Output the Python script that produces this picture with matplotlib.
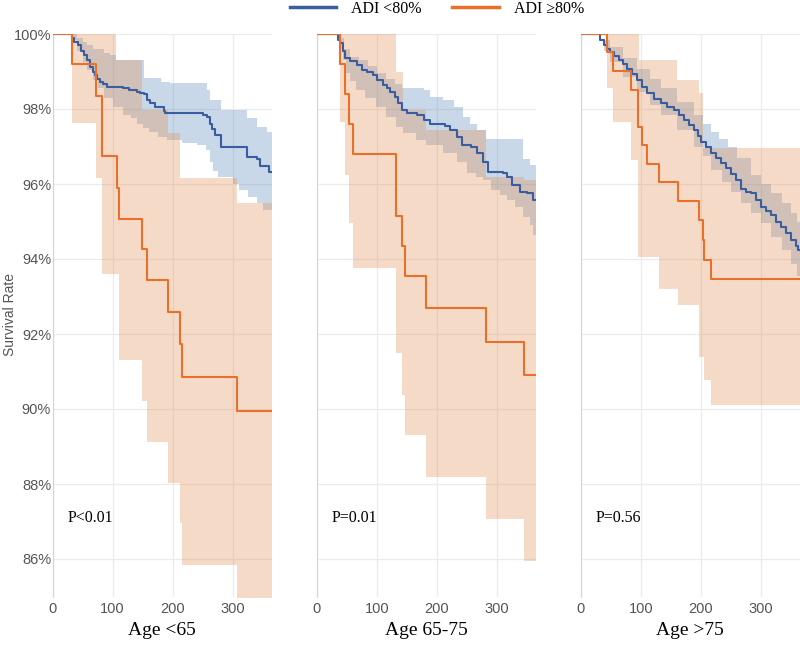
import numpy as np
import matplotlib
matplotlib.use("Agg")
import matplotlib.pyplot as plt

C_BLUE = "#3a5da0"
C_ORANGE = "#e8702a"
F_BLUE = "#4f7fb6"
F_ORANGE = "#e18a48"
SERIF = "Liberation Serif"
SANS = "Liberation Sans"

panel_titles = ["Age <65", "Age 65-75", "Age >75"]
p_values = ["P<0.01", "P=0.01", "P=0.56"]

# ---- Age <65 ----
lo_blue_t = [0, 28, 32, 36, 42, 48, 52, 57, 63, 67, 71, 74, 79, 84, 91, 118, 127, 141, 146, 152, 157,
             163, 171, 185, 188, 243, 250, 257, 262, 266, 271, 280, 318, 324, 341, 346, 360]
lo_blue_v = [100, 100, 99.9, 99.8, 99.7, 99.55, 99.44, 99.3, 99.13, 99.0, 98.9, 98.8, 98.73, 98.66,
             98.6, 98.55, 98.5, 98.46, 98.42, 98.4, 98.24, 98.15, 98.04, 97.96, 97.9, 97.9, 97.83,
             97.78, 97.6, 97.47, 97.3, 96.98, 96.98, 96.71, 96.67, 96.49, 96.33]
lo_blue_up_t = [0, 32, 40, 50, 57, 68, 85, 96, 105, 149, 152, 180, 196, 257, 263, 280, 318, 324,
                341, 357]
lo_blue_up_v = [100, 100, 99.9, 99.8, 99.7, 99.6, 99.5, 99.44, 99.31, 99.31, 98.83, 98.73, 98.69,
                98.51, 98.24, 97.97, 97.97, 97.75, 97.53, 97.4]
lo_blue_lo_t = [0, 28, 32, 40, 50, 57, 68, 75, 85, 100, 118, 130, 140, 150, 160, 175, 191, 215,
                240, 255, 262, 268, 275, 300, 310, 325, 340, 350]
lo_blue_lo_v = [100, 100, 99.85, 99.55, 99.25, 99.04, 98.77, 98.55, 98.3, 98.05, 97.85, 97.75,
                97.6, 97.5, 97.4, 97.25, 97.17, 97.1, 97.05, 96.9, 96.6, 96.35, 96.2, 96.0, 95.85,
                95.65, 95.5, 95.3]
lo_or_t = [0, 32, 72, 83, 107, 110, 149, 157, 193, 213, 215, 308]
lo_or_v = [100, 99.2, 98.36, 96.75, 95.9, 95.08, 94.28, 93.44, 92.58, 91.73, 90.85, 89.95]
lo_or_up_t = [0, 105, 149, 193, 213, 307]
lo_or_up_v = [100, 99.31, 97.97, 97.36, 96.15, 95.5]
lo_or_lo_t = [0, 32, 72, 83, 110, 149, 157, 193, 213, 215, 308]
lo_or_lo_v = [100, 97.62, 96.15, 93.6, 91.3, 90.22, 89.13, 88.02, 86.96, 85.84, 84.0]

# ---- Age 65-75 ----
mid_blue_t = [0, 33, 36, 39, 43, 47, 56, 67, 75, 83, 94, 100, 111, 117, 122, 130, 136, 142, 150,
              167, 178, 189, 214, 222, 233, 242, 258, 267, 278, 286, 311, 317, 325, 339, 350, 361]
mid_blue_v = [100, 100, 99.85, 99.75, 99.55, 99.35, 99.28, 99.17, 99.05, 99.0, 98.9, 98.77, 98.64,
              98.55, 98.46, 98.33, 98.15, 97.97, 97.9, 97.84, 97.7, 97.6, 97.55, 97.44, 97.26,
              97.04, 96.98, 96.82, 96.6, 96.33, 96.3, 96.2, 95.97, 95.8, 95.75, 95.57]
mid_blue_up_t = [0, 30, 35, 45, 55, 70, 85, 100, 115, 130, 142, 178, 189, 211, 228, 244, 255, 268,
                 283, 344, 355]
mid_blue_up_v = [100, 100, 99.9, 99.6, 99.4, 99.3, 99.15, 98.95, 98.8, 98.66, 98.56, 98.5, 98.33,
                 98.24, 98.06, 97.8, 97.6, 97.45, 97.19, 96.66, 96.5]
mid_blue_lo_t = [0, 33, 38, 43, 48, 56, 65, 81, 98, 115, 132, 144, 165, 182, 210, 233, 250, 265,
                 278, 290, 305, 317, 330, 344, 355, 361]
mid_blue_lo_v = [100, 100, 99.6, 99.3, 98.95, 98.75, 98.51, 98.29, 98.06, 97.8, 97.53, 97.36,
                 97.17, 97.04, 96.82, 96.6, 96.29, 96.2, 96.1, 95.85, 95.7, 95.57, 95.4, 95.13,
                 94.9, 94.64]
mid_or_t = [0, 39, 47, 53, 61, 132, 142, 147, 182, 282, 346]
mid_or_v = [100, 99.19, 98.39, 97.6, 96.8, 95.16, 94.36, 93.55, 92.68, 91.8, 90.91]
mid_or_up_t = [0, 132, 144, 182, 282, 346]
mid_or_up_v = [100, 98.99, 97.97, 97.44, 96.2, 96.1]
mid_or_lo_t = [0, 39, 47, 53, 61, 132, 142, 147, 182, 282, 346]
mid_or_lo_v = [100, 97.66, 96.24, 94.96, 93.76, 91.49, 90.37, 89.31, 88.2, 87.07, 85.95]

# ---- Age >75 ----
old_blue_t = [0, 27, 32, 38, 44, 49, 56, 63, 70, 77, 85, 94, 102, 111, 122, 133, 144, 155, 163,
              172, 180, 189, 195, 200, 208, 217, 225, 234, 242, 250, 258, 267, 275, 284, 292, 301,
              309, 317, 325, 334, 342, 351, 358, 362]
old_blue_v = [100, 100, 99.85, 99.7, 99.6, 99.53, 99.42, 99.3, 99.2, 99.08, 98.93, 98.77, 98.6,
              98.42, 98.28, 98.15, 98.06, 97.97, 97.84, 97.7, 97.57, 97.44, 97.28, 97.13, 96.98,
              96.82, 96.7, 96.55, 96.42, 96.28, 96.1, 95.88, 95.8, 95.75, 95.58, 95.4, 95.28,
              95.17, 95.0, 94.86, 94.7, 94.5, 94.35, 94.24]
old_blue_up_t = [0, 27, 38, 49, 70, 94, 115, 133, 160, 189, 203, 217, 230, 245, 260, 284, 300, 317,
                 335, 351, 360]
old_blue_up_v = [100, 100, 99.85, 99.66, 99.35, 99.08, 98.8, 98.55, 98.2, 97.85, 97.6, 97.4, 97.2,
                 96.98, 96.7, 96.24, 96.0, 95.75, 95.5, 95.22, 95.0]
old_blue_lo_t = [0, 27, 38, 49, 70, 94, 115, 133, 160, 189, 203, 217, 235, 250, 267, 284, 300,
                 317, 335, 351, 360]
old_blue_lo_v = [100, 100, 99.55, 99.26, 98.85, 98.46, 98.1, 97.84, 97.45, 97.0, 96.75, 96.37,
                 96.05, 95.8, 95.5, 95.22, 94.95, 94.6, 94.25, 93.88, 93.55]
old_or_t = [0, 44, 54, 84, 96, 102, 110, 130, 162, 197, 203, 206, 217]
old_or_v = [100, 99.51, 99.02, 98.52, 97.53, 97.04, 96.53, 96.04, 95.54, 95.04, 94.52, 93.97, 93.48]
old_or_up_t = [0, 97, 161, 197, 203]
old_or_up_v = [100, 99.3, 98.77, 98.42, 96.97]
old_or_lo_t = [0, 44, 54, 84, 96, 130, 162, 197, 206, 217]
old_or_lo_v = [100, 98.55, 97.66, 96.64, 94.04, 93.2, 92.77, 91.39, 90.77, 90.12]

panels = [
    (lo_blue_t, lo_blue_v, lo_blue_up_t, lo_blue_up_v, lo_blue_lo_t, lo_blue_lo_v,
     lo_or_t, lo_or_v, lo_or_up_t, lo_or_up_v, lo_or_lo_t, lo_or_lo_v),
    (mid_blue_t, mid_blue_v, mid_blue_up_t, mid_blue_up_v, mid_blue_lo_t, mid_blue_lo_v,
     mid_or_t, mid_or_v, mid_or_up_t, mid_or_up_v, mid_or_lo_t, mid_or_lo_v),
    (old_blue_t, old_blue_v, old_blue_up_t, old_blue_up_v, old_blue_lo_t, old_blue_lo_v,
     old_or_t, old_or_v, old_or_up_t, old_or_up_v, old_or_lo_t, old_or_lo_v),
]

T_END = 365


def step_at(ts, vs, grid):
    """Value of a post-step curve at each grid time."""
    idx = np.searchsorted(np.asarray(ts), grid, side="right") - 1
    return np.asarray(vs)[idx]


def draw_km(ax, t, v, color):
    ax.plot(list(t) + [T_END], list(v) + [v[-1]], drawstyle="steps-post",
            color=color, lw=1.5, zorder=4)


def draw_band(ax, ut, uv, lt, lv, color):
    grid = np.unique(np.concatenate([ut, lt, [T_END]]))
    ax.fill_between(grid, step_at(lt, lv, grid), step_at(ut, uv, grid),
                    step="post", color=color, alpha=0.3, lw=0, zorder=2)


fig = plt.figure(figsize=(8, 6.45), dpi=100)
lefts = [52.5, 316.7, 580.7]
axes = []
for i, (left, data) in enumerate(zip(lefts, panels)):
    ax = fig.add_axes([left / 800, 1 - 596.5 / 645, 219 / 800, 562.5 / 645])
    axes.append(ax)
    (bt, bv, but, buv, blt, blv, ot, ov, out, ouv, olt, olv) = data
    draw_band(ax, but, buv, blt, blv, F_BLUE)
    draw_band(ax, out, ouv, olt, olv, F_ORANGE)
    draw_km(ax, bt, bv, C_BLUE)
    draw_km(ax, ot, ov, C_ORANGE)

    ax.set_xlim(0, T_END)
    ax.set_ylim(85, 100)
    ax.set_xticks([0, 100, 200, 300])
    ax.set_yticks(np.arange(86, 101, 2))
    ax.grid(True, color="#ebebeb", lw=0.9, zorder=0)
    ax.set_axisbelow(True)
    for side in ["top", "right", "bottom"]:
        ax.spines[side].set_visible(False)
    ax.spines["left"].set_color("#d4d4d4")
    ax.tick_params(length=0, labelsize=10.5, labelcolor="#555555")
    ax.tick_params(axis="x", pad=4)
    ax.tick_params(axis="y", pad=1)
    for lab in ax.get_xticklabels() + ax.get_yticklabels():
        lab.set_family(SANS)
    if i == 0:
        ax.set_yticklabels([f"{y}%" for y in range(86, 101, 2)])
    else:
        ax.set_yticklabels([])
    ax.set_xlabel(panel_titles[i], family=SERIF, fontsize=14, labelpad=4)
    ax.text(0.07, 0.14, p_values[i], transform=ax.transAxes, family=SERIF, fontsize=11.5,
            ha="left", va="center")

fig.text(10 / 800, 1 - 315 / 645, "Survival Rate", rotation=90, family=SANS, fontsize=10,
         color="#555555", ha="center", va="center")

h1, = axes[0].plot([], [], color=C_BLUE, lw=2.5)
h2, = axes[0].plot([], [], color=C_ORANGE, lw=2.5)
fig.legend([h1, h2], ["ADI <80%", "ADI \u226580%"], loc="center", ncol=2,
           bbox_to_anchor=(437 / 800, 1 - 9 / 645), frameon=False,
           prop={"family": SERIF, "size": 11.5}, handlelength=2.9, columnspacing=1.9,
           handletextpad=0.95)

fig.savefig("out.png", dpi=100)
